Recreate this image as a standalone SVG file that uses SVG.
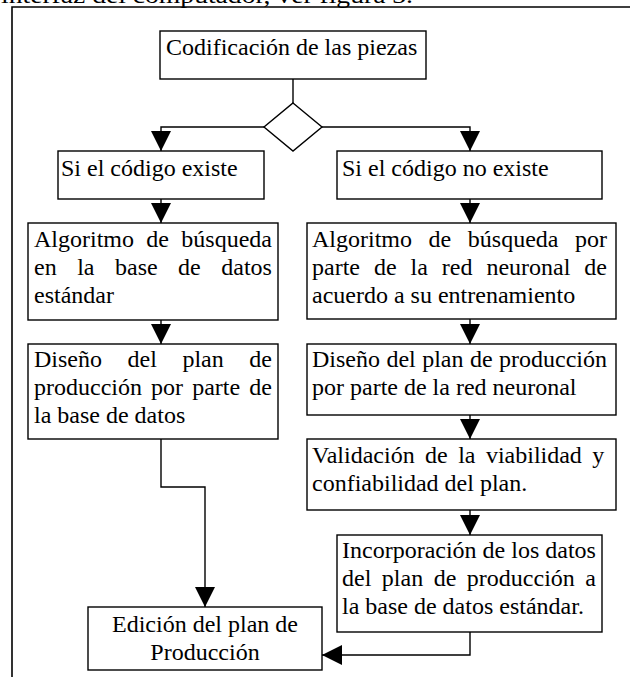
<svg xmlns="http://www.w3.org/2000/svg" width="630" height="677" viewBox="0 0 630 677">
<style>
.box{fill:#fff;stroke:#000;stroke-width:1.4}
.t{font-family:"Liberation Serif","Times New Roman",serif;font-size:24px;fill:#000}
.c{text-anchor:middle}
.ln{fill:none;stroke:#000;stroke-width:1.4}
.frame{fill:none;stroke:#000;stroke-width:1.6}
</style>
<defs>
<marker id="ah" markerUnits="userSpaceOnUse" markerWidth="20" markerHeight="20" viewBox="0 0 20 20" refX="20" refY="10" orient="auto">
<path d="M0,0 L20,10 L0,20 z" fill="#000"/>
</marker>
</defs>
<rect width="630" height="677" fill="#fff"/>
<text class="t" x="1" y="3" font-size="27" textLength="412" lengthAdjust="spacingAndGlyphs">interfaz del computador, ver figura 3.</text>
<path class="frame" d="M12,677 L12,7 L630,7"/>

<g id="connectors">
<path class="ln" d="M293,79 L293,103"/>
<path class="ln" d="M264,127 L161,127 L161,151" marker-end="url(#ah)"/>
<path class="ln" d="M322,127 L470,127 L470,151" marker-end="url(#ah)"/>
<path class="ln" d="M161,199 L161,223" marker-end="url(#ah)"/>
<path class="ln" d="M470,199 L470,223" marker-end="url(#ah)"/>
<path class="ln" d="M161,320 L161,344" marker-end="url(#ah)"/>
<path class="ln" d="M470,319 L470,344" marker-end="url(#ah)"/>
<path class="ln" d="M470,415 L470,439" marker-end="url(#ah)"/>
<path class="ln" d="M470,510 L470,535" marker-end="url(#ah)"/>
<path class="ln" d="M161,439 L161,487 L205,487 L205,607" marker-end="url(#ah)"/>
<path class="ln" d="M470,632 L470,655 L322,655" marker-end="url(#ah)"/>
</g>

<g id="n-codificacion">
<rect class="box" x="160" y="31" width="266" height="48"/>
<text class="t" x="166" y="55">Codificación de las piezas</text>
</g>

<g id="n-decision">
<polygon class="box" points="293,103 322,127 293,151 264,127"/>
</g>

<g id="n-si-existe">
<rect class="box" x="58" y="151" width="206" height="48"/>
<text class="t" x="61" y="176">Si el código existe</text>
</g>

<g id="n-si-no-existe">
<rect class="box" x="337" y="151" width="265" height="48"/>
<text class="t" x="342" y="176">Si el código no existe</text>
</g>

<g id="n-algoritmo-bd">
<rect class="box" x="28" y="223" width="250" height="97"/>
<text class="t" x="34" y="247" word-spacing="6.35">Algoritmo de búsqueda</text>
<text class="t" x="34" y="275" word-spacing="14.5">en la base de datos</text>
<text class="t" x="34" y="303">estándar</text>
</g>

<g id="n-algoritmo-rn">
<rect class="box" x="307" y="223" width="309" height="96"/>
<text class="t" x="312" y="247" word-spacing="10.57">Algoritmo de búsqueda por</text>
<text class="t" x="312" y="275" word-spacing="7.96">parte de la red neuronal de</text>
<text class="t" x="312" y="303">acuerdo a su entrenamiento</text>
</g>

<g id="n-diseno-bd">
<rect class="box" x="28" y="344" width="250" height="95"/>
<text class="t" x="34" y="367" word-spacing="19.57">Diseño del plan de</text>
<text class="t" x="34" y="395" word-spacing="3.13">producción por parte de</text>
<text class="t" x="34" y="423">la base de datos</text>
</g>

<g id="n-diseno-rn">
<rect class="box" x="307" y="344" width="309" height="71"/>
<text class="t" x="312" y="367" word-spacing="0.43">Diseño del plan de producción</text>
<text class="t" x="312" y="395">por parte de la red neuronal</text>
</g>

<g id="n-validacion">
<rect class="box" x="307" y="439" width="309" height="71"/>
<text class="t" x="312" y="463" word-spacing="4.43">Validación de la viabilidad y</text>
<text class="t" x="312" y="491">confiabilidad del plan.</text>
</g>

<g id="n-incorporacion">
<rect class="box" x="337" y="535" width="265" height="97"/>
<text class="t" x="342" y="558">Incorporación de los datos</text>
<text class="t" x="342" y="586" word-spacing="4.52">del plan de producción a</text>
<text class="t" x="342" y="614">la base de datos estándar.</text>
</g>

<g id="n-edicion">
<rect class="box" x="88" y="607" width="234" height="63"/>
<text class="t c" x="205" y="632">Edición del plan de</text>
<text class="t c" x="205" y="660">Producción</text>
</g>
</svg>
